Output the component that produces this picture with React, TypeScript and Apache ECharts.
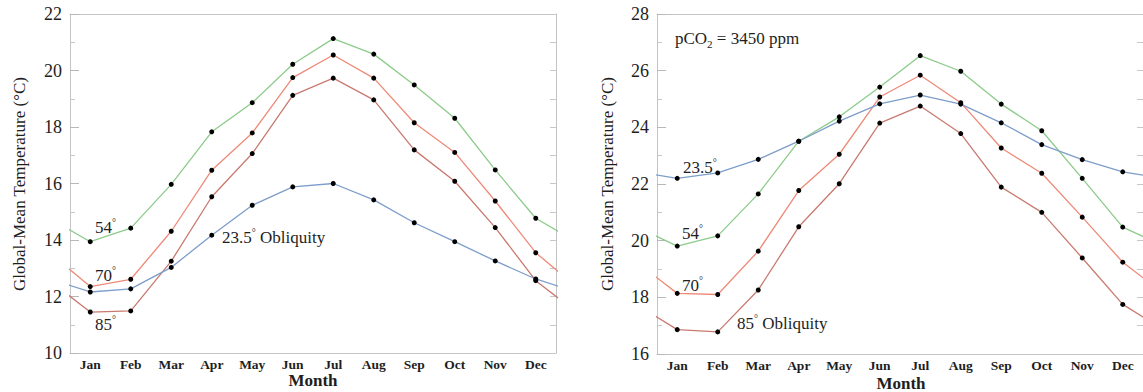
import React, { useEffect, useRef } from "react";
import * as echarts from "echarts";

const months = ["Jan", "Feb", "Mar", "Apr", "May", "Jun", "Jul", "Aug", "Sep", "Oct", "Nov", "Dec"];

// Left panel (present-day CO2)
const leftObl235 = [12.16, 12.27, 13.03, 14.17, 15.23, 15.88, 16.0, 15.42, 14.61, 13.94, 13.26, 12.62];
const leftObl54 = [13.94, 14.42, 15.97, 17.83, 18.86, 20.22, 21.13, 20.58, 19.49, 18.31, 16.48, 14.77];
const leftObl70 = [12.35, 12.61, 14.31, 16.47, 17.79, 19.75, 20.55, 19.73, 18.15, 17.1, 15.38, 13.55];
const leftObl85 = [11.45, 11.49, 13.25, 15.53, 17.06, 19.12, 19.73, 18.96, 17.19, 16.08, 14.44, 12.56];

// Right panel (pCO2 = 3450 ppm)
const rightObl235 = [22.2, 22.39, 22.87, 23.51, 24.22, 24.83, 25.14, 24.82, 24.16, 23.39, 22.86, 22.43];
const rightObl54 = [19.81, 20.17, 21.65, 23.51, 24.37, 25.42, 26.53, 25.98, 24.82, 23.88, 22.2, 20.48];
const rightObl70 = [18.14, 18.1, 19.63, 21.77, 23.05, 25.07, 25.84, 24.87, 23.27, 22.38, 20.83, 19.24];
const rightObl85 = [16.86, 16.78, 18.26, 20.49, 22.01, 24.15, 24.75, 23.78, 21.89, 21.0, 19.39, 17.75];

const leftYTicks = { min: 10, max: 22, step: 2 };
const rightYTicks = { min: 16, max: 28, step: 2 };

const FONT = "'Liberation Serif', 'DejaVu Serif', serif";
const TXT = "#1e1e1e";
const FRAME = "#c4c4c4";
const C_BLUE = "#7d9dcb";
const C_GREEN = "#8ccb8a";
const C_RED70 = "#ee8a78";
const C_RED85 = "#c97a70";

// periodic annual cycle: previous Dec before Jan and next Jan after Dec
function cyc(vals: number[]) {
  const out: any[] = [{ value: [0, vals[11]], symbol: "none" }];
  vals.forEach((v, i) => out.push([i + 1, v]));
  out.push({ value: [13, vals[0]], symbol: "none" });
  return out;
}

function axesFor(g: number, yr: { min: number; max: number; step: number }) {
  const xAxes = [
    {
      type: "category",
      gridIndex: g,
      position: "bottom",
      data: months,
      boundaryGap: true,
      axisLine: { lineStyle: { color: FRAME, width: 1 } },
      axisTick: { inside: true, alignWithLabel: true, length: 11, lineStyle: { color: "#b8b8b8" } },
      axisLabel: { color: TXT, fontFamily: FONT, fontSize: 13.5, fontWeight: "bold", margin: 4 },
      splitLine: { show: false },
    },
    {
      type: "category",
      gridIndex: g,
      position: "top",
      data: months,
      boundaryGap: true,
      axisLine: { lineStyle: { color: FRAME, width: 1 } },
      axisTick: { inside: true, alignWithLabel: true, length: 10, lineStyle: { color: "#b8b8b8" } },
      axisLabel: { show: false },
      splitLine: { show: false },
    },
    { type: "value", gridIndex: g, min: 0.5, max: 12.5, show: false },
  ];
  const yAxes = [
    {
      type: "value",
      gridIndex: g,
      position: "left",
      min: yr.min,
      max: yr.max,
      interval: yr.step,
      axisLine: { show: true, lineStyle: { color: FRAME, width: 1 } },
      axisTick: { show: true, inside: true, length: 9, lineStyle: { color: "#b8b8b8" } },
      minorTick: { show: true, splitNumber: 2, length: 5, lineStyle: { color: "#c8c8c8" } },
      axisLabel: { color: TXT, fontFamily: FONT, fontSize: 18, margin: 8 },
      splitLine: { show: false },
    },
    {
      type: "value",
      gridIndex: g,
      position: "right",
      min: yr.min,
      max: yr.max,
      interval: 1,
      axisLine: { show: true, lineStyle: { color: FRAME, width: 1 } },
      axisTick: { show: true, inside: true, length: 6, lineStyle: { color: "#c8c8c8" } },
      axisLabel: { show: false },
      splitLine: { show: false },
    },
  ];
  return { xAxes, yAxes };
}

function lineSeries(name: string, vals: number[], color: string, xi: number, yi: number) {
  return {
    name,
    type: "line",
    xAxisIndex: xi,
    yAxisIndex: yi,
    data: cyc(vals),
    clip: true,
    symbol: "circle",
    symbolSize: 5,
    showSymbol: true,
    itemStyle: { color: "#000" },
    lineStyle: { color, width: 1.3 },
    emphasis: { disabled: true },
    z: 3,
  };
}

const degRich = {
  d: { fontSize: 10, fontFamily: FONT, fill: TXT, verticalAlign: "top", lineHeight: 20 },
};

function txt(text: string, x: number, y: number, size = 17, extra: any = {}) {
  return {
    type: "text",
    x,
    y,
    z: 10,
    style: {
      text,
      fill: TXT,
      font: `${size}px ${FONT}`,
      textAlign: "left",
      textVerticalAlign: "middle",
      lineHeight: 20,
      rich: degRich,
      ...extra,
    },
  };
}

export default function App() {
  const ref = useRef<HTMLDivElement>(null);
  useEffect(() => {
    if (!ref.current) return;
    const chart = echarts.init(ref.current, null, { renderer: "svg" });
    const a = axesFor(0, leftYTicks);
    const b = axesFor(1, rightYTicks);
    const yName = (x: number) => ({
      type: "text",
      x,
      y: 184,
      rotation: Math.PI / 2,
      style: {
        text: "Global-Mean Temperature (°C)",
        fill: TXT,
        font: `17px ${FONT}`,
        textAlign: "center",
        textVerticalAlign: "middle",
      },
    });
    const option: any = {
      animation: false,
      backgroundColor: "#fff",
      grid: [
        { left: 70, top: 14, width: 486, height: 339 },
        { left: 657, top: 14, width: 487, height: 340 },
      ],
      xAxis: [...a.xAxes, ...b.xAxes],
      yAxis: [...a.yAxes, ...b.yAxes],
      series: [
        lineSeries("L 54", leftObl54, C_GREEN, 2, 0),
        lineSeries("L 70", leftObl70, C_RED70, 2, 0),
        lineSeries("L 85", leftObl85, C_RED85, 2, 0),
        lineSeries("L 23.5", leftObl235, C_BLUE, 2, 0),
        lineSeries("R 54", rightObl54, C_GREEN, 5, 2),
        lineSeries("R 70", rightObl70, C_RED70, 5, 2),
        lineSeries("R 85", rightObl85, C_RED85, 5, 2),
        lineSeries("R 23.5", rightObl235, C_BLUE, 5, 2),
      ],
      graphic: [
        yName(19),
        yName(607),
        txt("Month", 313, 380, 16, { font: `bold 17px ${FONT}`, textAlign: "center" }),
        txt("Month", 901, 383, 16, { font: `bold 17px ${FONT}`, textAlign: "center" }),
        // left annotations
        txt("54{d|°}", 95, 227),
        txt("70{d|°}", 95, 275),
        txt("85{d|°}", 95, 324),
        txt("23.5{d|°} Obliquity", 222, 237),
        // right annotations
        {
          type: "text",
          x: 675,
          y: 38,
          z: 10,
          style: {
            text: "pCO{s|2} = 3450 ppm",
            fill: TXT,
            font: `17px ${FONT}`,
            textAlign: "left",
            textVerticalAlign: "middle",
            lineHeight: 22,
            rich: {
              s: { fontSize: 11, fontFamily: FONT, fill: TXT, verticalAlign: "bottom", lineHeight: 22 },
            },
          },
        },
        txt("23.5{d|°}", 683, 167),
        txt("54{d|°}", 682, 233),
        txt("70{d|°}", 682, 285),
        txt("85{d|°} Obliquity", 737, 323),
      ],
    };
    chart.setOption(option);
    return () => chart.dispose();
  }, []);
  return (
    <div
      ref={ref}
      style={{ position: "fixed", left: 0, top: 0, width: 1143, height: 392, background: "#fff" }}
    />
  );
}
